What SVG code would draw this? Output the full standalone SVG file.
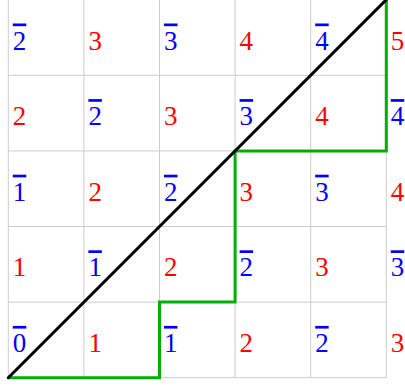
<svg xmlns="http://www.w3.org/2000/svg" width="405" height="386" viewBox="0 0 405 386">
<style>
.grid line{stroke:#cccccc;stroke-width:1}
text{font-family:"Liberation Serif","Times New Roman",serif;font-size:27px}
.r{fill:#ff0000}
.b{fill:#0000ff;text-decoration:overline}
</style>
<rect width="405" height="386" fill="#ffffff"/>
<g class="grid">
<line x1="8.3" y1="-1" x2="8.3" y2="377.7"/>
<line x1="83.9" y1="-1" x2="83.9" y2="377.7"/>
<line x1="159.5" y1="-1" x2="159.5" y2="377.7"/>
<line x1="235.1" y1="-1" x2="235.1" y2="377.7"/>
<line x1="310.7" y1="-1" x2="310.7" y2="377.7"/>
<line x1="386.3" y1="-1" x2="386.3" y2="377.7"/>
<line x1="8.3" y1="75.3" x2="386.3" y2="75.3"/>
<line x1="8.3" y1="150.9" x2="386.3" y2="150.9"/>
<line x1="8.3" y1="226.5" x2="386.3" y2="226.5"/>
<line x1="8.3" y1="302.1" x2="386.3" y2="302.1"/>
<line x1="8.3" y1="377.7" x2="386.3" y2="377.7"/>
</g>
<g id="labels">
<text x="12.8" y="49.5" class="b">2</text>
<text x="88.4" y="49.5" class="r">3</text>
<text x="164" y="49.5" class="b">3</text>
<text x="239.6" y="49.5" class="r">4</text>
<text x="315.2" y="49.5" class="b">4</text>
<text x="390.8" y="49.5" class="r">5</text>

<text x="12.8" y="125.1" class="r">2</text>
<text x="88.4" y="125.1" class="b">2</text>
<text x="164" y="125.1" class="r">3</text>
<text x="239.6" y="125.1" class="b">3</text>
<text x="315.2" y="125.1" class="r">4</text>
<text x="390.8" y="125.1" class="b">4</text>

<text x="12.8" y="200.7" class="b">1</text>
<text x="88.4" y="200.7" class="r">2</text>
<text x="164" y="200.7" class="b">2</text>
<text x="239.6" y="200.7" class="r">3</text>
<text x="315.2" y="200.7" class="b">3</text>
<text x="390.8" y="200.7" class="r">4</text>

<text x="12.8" y="276.3" class="r">1</text>
<text x="88.4" y="276.3" class="b">1</text>
<text x="164" y="276.3" class="r">2</text>
<text x="239.6" y="276.3" class="b">2</text>
<text x="315.2" y="276.3" class="r">3</text>
<text x="390.8" y="276.3" class="b">3</text>

<text x="12.8" y="351.9" class="b">0</text>
<text x="88.4" y="351.9" class="r">1</text>
<text x="164" y="351.9" class="b">1</text>
<text x="239.6" y="351.9" class="r">2</text>
<text x="315.2" y="351.9" class="b">2</text>
<text x="390.8" y="351.9" class="r">3</text>
</g>
<g id="connectors" fill="none" stroke-linejoin="miter">
<path id="staircase" d="M8.3,377.7 H159.5 V302.1 H235.1 V150.9 H386.3 V-2" stroke="#00b000" stroke-width="3"/>
<line id="diagonal" x1="8.3" y1="377.7" x2="386.3" y2="-0.3" stroke="#000000" stroke-width="3" stroke-linecap="round"/>
</g>
</svg>
